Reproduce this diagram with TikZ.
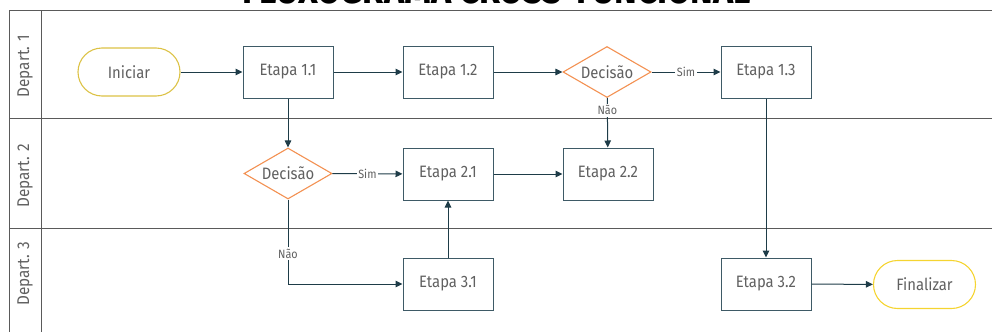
\documentclass[tikz,border=0pt]{standalone}
\usepackage{fontspec}
\setmainfont[FakeStretch=0.9]{Fira Sans}
\usetikzlibrary{shapes.geometric,arrows.meta}
\definecolor{boxc}{HTML}{3E5A66}
\definecolor{arrc}{HTML}{1E3C48}
\definecolor{orng}{HTML}{F39152}
\definecolor{yel1}{HTML}{DCC245}
\definecolor{yel2}{HTML}{F5D431}
\definecolor{txt}{HTML}{606060}
\definecolor{frm}{HTML}{5A5A5A}
\begin{document}
\begin{tikzpicture}[x=1pt,y=-1pt,
  every node/.style={text=txt},
  stepbox/.style={draw=boxc, line width=1pt, minimum width=90pt, minimum height=52pt, inner sep=0pt, font=\fontsize{16.5}{18}\selectfont},
  decision/.style={diamond, aspect=1.7, draw=orng, line width=1.1pt, minimum width=88pt, minimum height=51pt, inner sep=0pt, font=\fontsize{16.5}{18}\selectfont},
  terminal/.style={rounded corners=24pt, line width=1.1pt, minimum width=102pt, minimum height=48pt, inner sep=0pt, font=\fontsize{16.5}{18}\selectfont},
  arr/.style={draw=arrc, line width=1pt, -{Triangle[length=7pt,width=6.5pt]}},
  lbl/.style={fill=white, inner sep=1.5pt, font=\fontsize{12}{13}\selectfont},
  lane/.style={draw=frm, line width=0.9pt},
  lanelbl/.style={rotate=90, font=\fontsize{17}{18}\selectfont}]
\useasboundingbox (0,0) rectangle (992,332);
% title (partly cut off at the top)
\node[anchor=base, text=black, font=\fontsize{38}{40}\selectfont\bfseries] (title) at (497,3.5) {FLUXOGRAMA CROSS-FUNCIONAL};
% frame
\draw[lane] (992,10.5) -- (9.5,10.5) -- (9.5,332);
\draw[lane] (41.5,10.5) -- (41.5,332);
\draw[lane] (9.5,118.5) -- (992,118.5);
\draw[lane] (9.5,228.5) -- (992,228.5);
\node[lanelbl] (l1) at (25,66) {Depart. 1};
\node[lanelbl] (l2) at (25,176) {Depart. 2};
\node[lanelbl] (l3) at (25,274) {Depart. 3};
% nodes
\node[terminal, draw=yel1] (ini) at (129,72) {Iniciar};
\node[stepbox] (e11) at (288,72) {Etapa 1.1};
\node[stepbox] (e12) at (448,72) {Etapa 1.2};
\node[decision] (d1) at (607,72) {Decisão};
\node[stepbox] (e13) at (766,72) {Etapa 1.3};
\node[decision] (d2) at (288,173.5) {Decisão};
\node[stepbox] (e21) at (448,174) {Etapa 2.1};
\node[stepbox] (e22) at (608,174) {Etapa 2.2};
\node[stepbox] (e31) at (448,284) {Etapa 3.1};
\node[stepbox] (e32) at (766,284) {Etapa 3.2};
\node[terminal, draw=yel2] (fin) at (924.5,284.5) {Finalizar};
% connectors
\draw[arr] (ini) -- (e11);
\draw[arr] (e11) -- (e12);
\draw[arr] (e12) -- (d1);
\draw[arr] (d1) -- node[lbl] {Sim} (e13);
\draw[arr] (d1) -- node[lbl, pos=0.25] {Não} (e22);
\draw[arr] (e11) -- (d2);
\draw[arr] (d2) -- node[lbl] {Sim} (e21);
\draw[arr] (e21) -- (e22);
\draw[arr] (d2) |- node[lbl, pos=0.32] {Não} (e31);
\draw[arr] (e31) -- (e21);
\draw[arr] (e13) -- (e32);
\draw[arr] (e32) -- (fin);
\end{tikzpicture}
\end{document}
